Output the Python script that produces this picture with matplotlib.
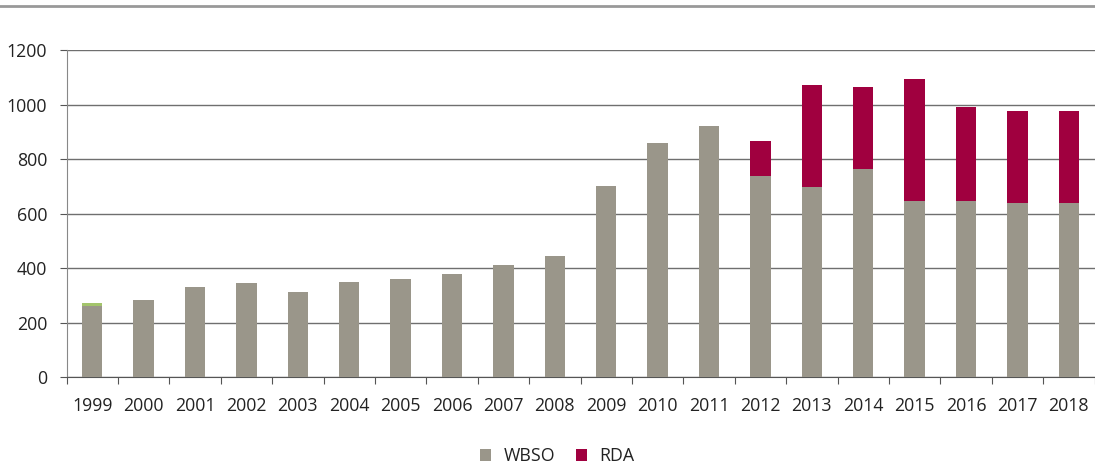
import matplotlib
matplotlib.use("Agg")
import matplotlib.pyplot as plt
from matplotlib.patches import Patch
from matplotlib.lines import Line2D
import numpy as np

plt.rcParams['font.family'] = ['Open Sans', 'DejaVu Sans']

years = [str(y) for y in range(1999, 2019)]
wbso = [260, 282, 330, 345, 312, 349, 360, 378, 411, 444,
        701, 859, 921, 736, 698, 765, 647, 647, 637, 637]
rda = [0, 0, 0, 0, 0, 0, 0, 0, 0, 0,
       0, 0, 0, 130, 374, 299, 448, 344, 339, 339]
other = [11] + [0] * 19

gray = '#9A968A'
red = '#A0003F'
green = '#A3C46B'
fs = 12.8

fig = plt.figure(figsize=(10.95, 4.68), dpi=100)
ax = fig.add_axes([66.5 / 1095, 1 - 377 / 468, (1094.5 - 66.5) / 1095, (377 - 50) / 468])

x = np.arange(len(years))
w = 0.4
ax.bar(x, wbso, w, color=gray, zorder=3)
ax.bar(x, rda, w, bottom=wbso, color=red, zorder=3)
ax.bar(x, other, w, bottom=wbso, color=green, zorder=3)

ax.set_xlim(-0.5, len(years) - 0.5)
ax.set_ylim(0, 1200)
ax.set_yticks(range(0, 1201, 200))
ax.yaxis.grid(True, color='#6f6f6f', linewidth=1.0, zorder=0)
ax.set_axisbelow(True)

ax.set_xticks(np.arange(-0.5, len(years), 1.0))
ax.set_xticklabels([])
ax.set_xticks(x, minor=True)
ax.set_xticklabels(years, minor=True)
ax.tick_params(axis='x', which='major', length=5, color='#555555', direction='out')
ax.tick_params(axis='x', which='minor', length=0, pad=14.5, labelsize=fs, labelcolor='#222222')
ax.tick_params(axis='y', length=5, color='#555555', labelsize=fs, labelcolor='#222222', pad=9)

for s in ['top', 'right']:
    ax.spines[s].set_visible(False)
ax.spines['left'].set_color('#888888')
ax.spines['bottom'].set_color('#555555')

# thin rule across the top of the figure
fig.add_artist(Line2D([0, 1], [1 - 6 / 468, 1 - 6 / 468], transform=fig.transFigure,
                      color='#999999', linewidth=2))

handles = [Patch(facecolor=gray, edgecolor='none', label='WBSO'),
           Patch(facecolor=red, edgecolor='none', label='RDA')]
fig.legend(handles=handles, loc='center', bbox_to_anchor=(0.509, 1 - 456 / 468), ncol=2,
           frameon=False, fontsize=fs, handlelength=0.62, handleheight=0.62,
           handletextpad=0.71, columnspacing=1.13, labelcolor='#222222',
           borderpad=0, borderaxespad=0)

fig.savefig('out.png', dpi=100)
